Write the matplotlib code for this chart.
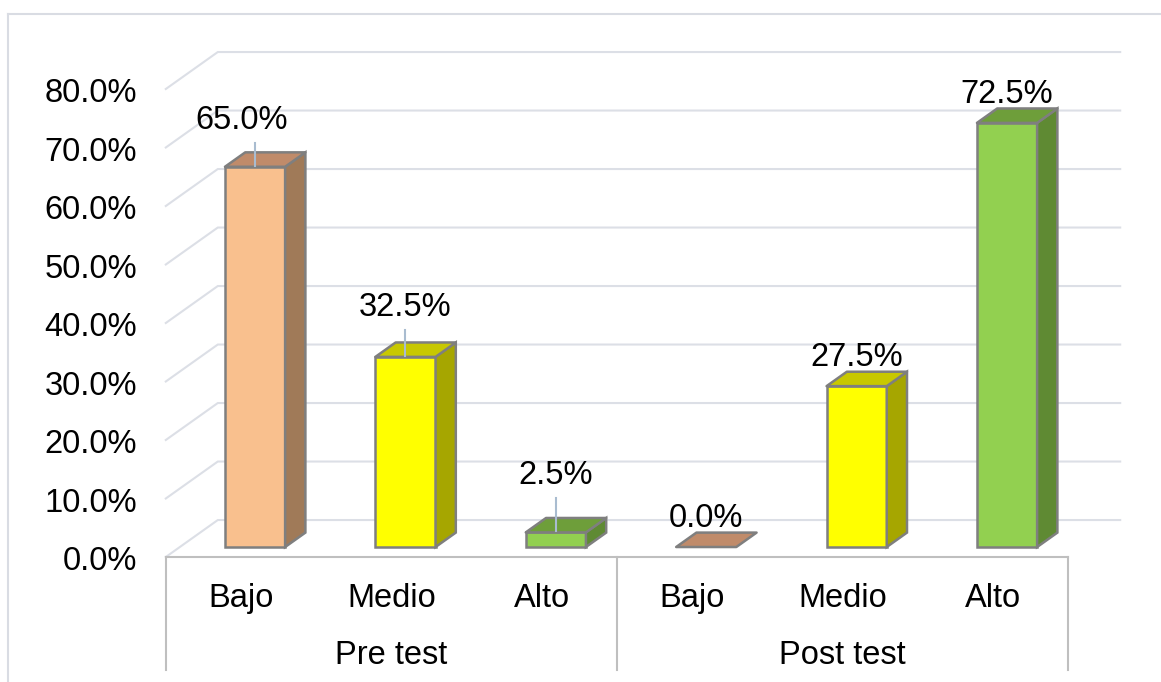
import numpy as np
import matplotlib
matplotlib.use('Agg')
import matplotlib.pyplot as plt
from matplotlib.patches import Polygon
from matplotlib.lines import Line2D

plt.rcParams['font.family'] = ['Liberation Sans', 'DejaVu Sans']

# datos
grupos = ['Pre test', 'Post test']
niveles = ['Bajo', 'Medio', 'Alto']
pre_test = [65.0, 32.5, 2.5]
post_test = [0.0, 27.5, 72.5]
yticks = [0, 10, 20, 30, 40, 50, 60, 70, 80]

# etiquetas movidas a mano (desplazamiento en x, y) y con linea guia
etiqueta_mov = {0: (-0.09, 3.0), 1: (0.0, 3.5), 2: (0.0, 4.8)}

valores = pre_test + post_test
cats = niveles * 2

# colores: frente, lado, tapa
col_frente = {'Bajo': '#F9C08E', 'Medio': '#FFFF00', 'Alto': '#92D050'}
col_lado = {'Bajo': '#A07A58', 'Medio': '#A6A600', 'Alto': '#5F8A33'}
col_tapa = {'Bajo': '#C08B6A', 'Medio': '#C8C800', 'Alto': '#6E9E3A'}
borde = '#7F7F7F'
grid_col = '#DCDFE6'
FS = 23.5

# perspectiva oblicua (profundidad en unidades de datos)
DX, DY = 0.3457, 6.32
Z0, ZD = 0.27, 0.39
W = 0.4

fig = plt.figure(figsize=(11.61, 6.82), dpi=100)
ax = fig.add_axes([0, 0, 1, 1])
ax.set_xlim(-241 / 150.4, (1161 - 241) / 150.4)
ax.set_ylim(-125 / 5.85, (682 - 125) / 5.85)
ax.axis('off')

# borde exterior del grafico
fig.add_artist(Line2D([8 / 1161, 8 / 1161], [0, 1 - 14 / 682], color='#D9DCE3', lw=1.5))
fig.add_artist(Line2D([8 / 1161, 1], [1 - 14 / 682, 1 - 14 / 682], color='#D9DCE3', lw=1.5))

# lineas de division (pared izquierda + fondo)
x_ini, x_fin = -0.5, 5.5
for v in yticks:
    ax.plot([x_ini, x_ini + DX, x_fin + DX], [v, v + DY, v + DY], color=grid_col, lw=1.5, zorder=1)
    ax.text(-0.69, v - 2.3, '%.1f%%' % v, ha='right', va='baseline', fontsize=FS, color='#000000')

# eje de categorias (caja)
ax.plot([x_ini, x_fin], [0, 0], color='#BFBFBF', lw=1.5, zorder=2)
for xv in [x_ini, 2.5, x_fin]:
    ax.plot([xv, xv], [0, -19.3], color='#BFBFBF', lw=1.5, zorder=2)
for i, c in enumerate(cats):
    ax.text(i, -8.55, c, ha='center', va='baseline', fontsize=FS)
for g, nombre in enumerate(grupos):
    ax.text(g * 3 + 1, -18.3, nombre, ha='center', va='baseline', fontsize=FS)

# barras 3D
for i, (c, v) in enumerate(zip(cats, valores)):
    x0 = i - W / 2 + Z0 * DX
    y0 = Z0 * DY
    ddx, ddy = ZD * DX, ZD * DY
    frente = [(x0, y0), (x0 + W, y0), (x0 + W, y0 + v), (x0, y0 + v)]
    lado = [(x0 + W, y0), (x0 + W + ddx, y0 + ddy), (x0 + W + ddx, y0 + v + ddy), (x0 + W, y0 + v)]
    tapa = [(x0, y0 + v), (x0 + W, y0 + v), (x0 + W + ddx, y0 + v + ddy), (x0 + ddx, y0 + v + ddy)]
    if v > 0:
        ax.add_patch(Polygon(frente, closed=True, fc=col_frente[c], ec=borde, lw=1.8, zorder=3))
        ax.add_patch(Polygon(lado, closed=True, fc=col_lado[c], ec=borde, lw=1.8, zorder=3))
    ax.add_patch(Polygon(tapa, closed=True, fc=col_tapa[c], ec=borde, lw=1.8, zorder=3, joinstyle='round'))

    # etiqueta de datos
    xc = x0 + W / 2
    lx, ly = xc, v + (Z0 + ZD) * DY + 1.0
    if i in etiqueta_mov:
        sx, sy = etiqueta_mov[i]
        lx, ly = lx + sx, ly + sy
        ax.plot([xc, xc], [ly - 2.4, v + Z0 * DY + 0.2], color='#A9BCD0', lw=1.5, zorder=4)
    ax.text(lx, ly, '%.1f%%' % v, ha='center', va='baseline', fontsize=FS, zorder=5)

fig.savefig('out.png', dpi=100, facecolor='white')
